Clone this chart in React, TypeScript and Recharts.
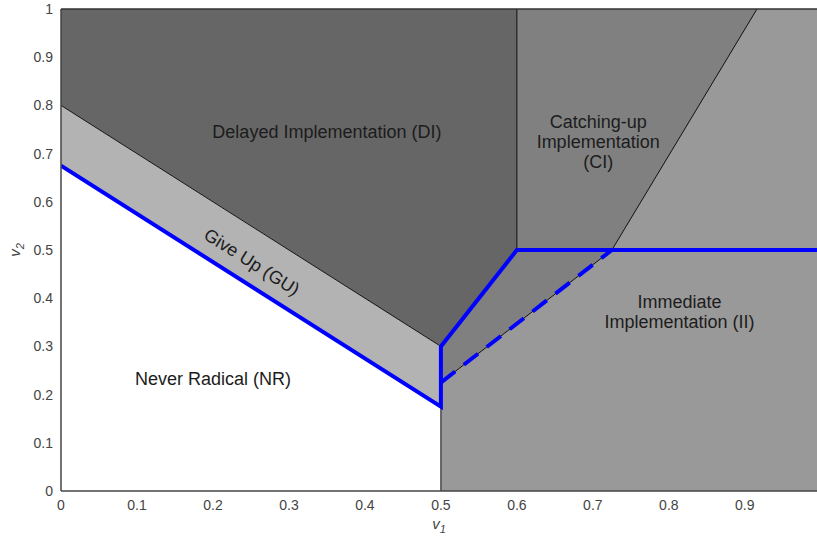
import { ComposedChart, Area, Line, XAxis, YAxis, ReferenceLine, ReferenceDot, Label } from 'recharts'

const xTicks = [0, 0.1, 0.2, 0.3, 0.4, 0.5, 0.6, 0.7, 0.8, 0.9]
const yTicks = [0, 0.1, 0.2, 0.3, 0.4, 0.5, 0.6, 0.7, 0.8, 0.9, 1]
const xMax = 0.995

// filled regions as [low, high] ranges over v1
const iiRegion = [{ x: 0.5, r: [0, 1] }, { x: xMax, r: [0, 1] }]
const ciRegion = [{ x: 0.5, r: [0.225, 1] }, { x: 0.725, r: [0.5, 1] }, { x: 0.916, r: [1, 1] }]
const diRegion = [{ x: 0, r: [0.8, 1] }, { x: 0.5, r: [0.3, 1] }, { x: 0.6, r: [0.5, 1] }]
const guRegion = [{ x: 0, r: [0.675, 0.8] }, { x: 0.5, r: [0.175, 0.3] }]

// boundaries
const diBoundary = [{ x: 0, y: 0.8 }, { x: 0.5, y: 0.3 }, { x: 0.6, y: 0.5 }]
const vLine50 = [{ x: 0.5, y: 0 }, { x: 0.5, y: 0.3 }]
const vLine60 = [{ x: 0.6, y: 0.5 }, { x: 0.6, y: 1 }]
const ciBoundary = [{ x: 0.725, y: 0.5 }, { x: 0.916, y: 1 }]
const dashedBoundary = [{ x: 0.5, y: 0.225 }, { x: 0.725, y: 0.5 }]
const nrBoundary = [
  { x: 0, y: 0.675 }, { x: 0.5, y: 0.175 }, { x: 0.5, y: 0.3 }, { x: 0.6, y: 0.5 }, { x: xMax, y: 0.5 },
]

const regionLabels = [
  { x: 0.35, y: 0.745, lines: ['Delayed Implementation (DI)'], angle: 0 },
  { x: 0.707, y: 0.724, lines: ['Catching-up', 'Implementation', '(CI)'], angle: 0 },
  { x: 0.814, y: 0.371, lines: ['Immediate', 'Implementation (II)'], angle: 0 },
  { x: 0.2, y: 0.232, lines: ['Never Radical (NR)'], angle: 0 },
  { x: 0.251, y: 0.475, lines: ['Give Up (GU)'], angle: 32.4 },
]

const font = 'Arial, "Liberation Sans", sans-serif'

function RegionText({ cx, cy, lines, angle }: any) {
  const lh = 20
  const start = cy - ((lines.length - 1) * lh) / 2
  return (
    <text x={cx} y={start} textAnchor="middle" dominantBaseline="central" fontSize={18} fill="#1c1c1c"
      fontFamily={font} transform={angle ? `rotate(${angle} ${cx} ${cy})` : undefined}>
      {lines.map((l: string, i: number) => (
        <tspan key={i} x={cx} y={start + i * lh}>{l}</tspan>
      ))}
    </text>
  )
}

function AxisName({ viewBox, name, vertical }: any) {
  const { x, y, width, height } = viewBox
  if (vertical) {
    const cx = 20, cy = y + height / 2
    return (
      <text x={cx} y={cy} transform={`rotate(-90 ${cx} ${cy})`} textAnchor="middle" fontSize={15}
        fill="#444" fontFamily={font} fontStyle="italic">
        {name}<tspan fontSize={11} dy={4}>2</tspan>
      </text>
    )
  }
  const cx = x + width / 2
  return (
    <text x={cx} y={529} textAnchor="middle" fontSize={15} fill="#444" fontFamily={font} fontStyle="italic">
      {name}<tspan fontSize={11} dy={4}>1</tspan>
    </text>
  )
}

export default function App() {
  const tick = { fontSize: 14, fill: '#444', fontFamily: font }
  return (
    <div style={{ position: 'absolute', left: 0, top: 0 }}>
      <ComposedChart width={817} height={537} margin={{ top: 9, right: 0, bottom: 0, left: 0 }}>
        <XAxis type="number" dataKey="x" domain={[0, xMax]} ticks={xTicks} allowDataOverflow
          tick={tick} tickLine={false} tickMargin={3} height={46} stroke="#444" strokeWidth={1.5}>
          <Label content={(p: any) => <AxisName viewBox={p.viewBox} name="v" />} />
        </XAxis>
        <YAxis type="number" dataKey="y" domain={[0, 1]} ticks={yTicks} allowDataOverflow
          tick={tick} tickLine={false} width={61} stroke="#444" strokeWidth={1.5}>
          <Label content={(p: any) => <AxisName viewBox={p.viewBox} name="v" vertical />} />
        </YAxis>

        <Area data={iiRegion} dataKey="r" type="linear" fill="#999999" fillOpacity={1} stroke="none" isAnimationActive={false} />
        <Area data={ciRegion} dataKey="r" type="linear" fill="#808080" fillOpacity={1} stroke="none" isAnimationActive={false} />
        <Area data={diRegion} dataKey="r" type="linear" fill="#666666" fillOpacity={1} stroke="none" isAnimationActive={false} />
        <Area data={guRegion} dataKey="r" type="linear" fill="#b3b3b3" fillOpacity={1} stroke="none" isAnimationActive={false} />

        <Line data={diBoundary} dataKey="y" type="linear" stroke="#111" strokeWidth={1} dot={false} isAnimationActive={false} />
        <Line data={vLine50} dataKey="y" type="linear" stroke="#111" strokeWidth={1} dot={false} isAnimationActive={false} />
        <Line data={vLine60} dataKey="y" type="linear" stroke="#111" strokeWidth={1} dot={false} isAnimationActive={false} />
        <Line data={ciBoundary} dataKey="y" type="linear" stroke="#111" strokeWidth={1} dot={false} isAnimationActive={false} />
        <Line data={dashedBoundary} dataKey="y" type="linear" stroke="#111" strokeWidth={1} dot={false} isAnimationActive={false} />
        <Line data={dashedBoundary} dataKey="y" type="linear" stroke="#0000ff" strokeWidth={4}
          strokeDasharray="18 11" dot={false} isAnimationActive={false} />
        <Line data={nrBoundary} dataKey="y" type="linear" stroke="#0000ff" strokeWidth={4}
          strokeLinejoin="miter" dot={false} isAnimationActive={false} />

        <ReferenceLine y={1} stroke="#333" strokeWidth={1.5} />

        {regionLabels.map((l, i) => (
          <ReferenceDot key={i} x={l.x} y={l.y} r={0}
            shape={(p: any) => <RegionText cx={p.cx} cy={p.cy} lines={l.lines} angle={l.angle} />} />
        ))}
      </ComposedChart>
    </div>
  )
}
